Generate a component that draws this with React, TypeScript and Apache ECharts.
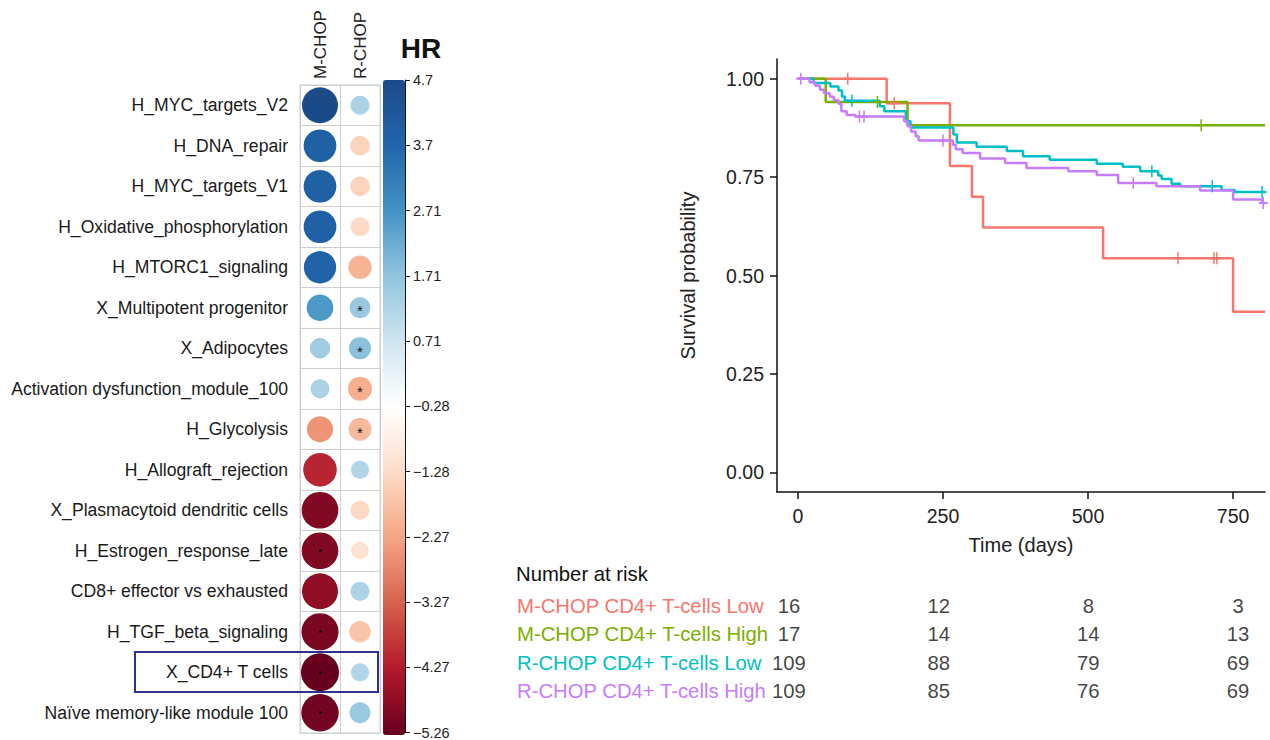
import React, { useEffect, useRef } from "react";
import * as echarts from "echarts";

// ---------- Heatmap (corrplot-style) data ----------
const rowNames = [
  "H_MYC_targets_V2",
  "H_DNA_repair",
  "H_MYC_targets_V1",
  "H_Oxidative_phosphorylation",
  "H_MTORC1_signaling",
  "X_Multipotent progenitor",
  "X_Adipocytes",
  "Activation dysfunction_module_100",
  "H_Glycolysis",
  "H_Allograft_rejection",
  "X_Plasmacytoid dendritic cells",
  "H_Estrogen_response_late",
  "CD8+ effector vs exhausted",
  "H_TGF_beta_signaling",
  "X_CD4+ T cells",
  "Naïve memory-like module 100",
];
const colNames = ["M-CHOP", "R-CHOP"];
const hrM = [4.7, 3.9, 3.9, 3.9, 3.8, 2.6, 1.5, 1.3, -2.5, -4.1, -4.9, -4.9, -4.7, -5.0, -5.26, -5.1];
const hrR = [1.3, -1.4, -1.4, -1.3, -2.0, 1.6, 1.8, -2.1, -1.9, 1.2, -1.3, -1.1, 1.3, -1.7, 1.2, 1.6];
const sigM = [0, 0, 0, 0, 0, 0, 0, 0, 0, 0, 0, 1, 0, 1, 1, 1];
const sigR = [0, 0, 0, 0, 0, 1, 1, 1, 1, 0, 0, 0, 0, 0, 0, 0];
const hrMin = -5.26;
const hrMax = 4.7;
const colorbarTicks = ["−5.26", "−4.27", "−3.27", "−2.27", "−1.28", "−0.28", "0.71", "1.71", "2.71", "3.7", "4.7"];

// ---------- Kaplan-Meier data (day, survival) ----------
const groupNames = [
  "M-CHOP CD4+ T-cells Low",
  "M-CHOP CD4+ T-cells High",
  "R-CHOP CD4+ T-cells Low",
  "R-CHOP CD4+ T-cells High",
];
const groupColors = ["#F8766D", "#7CAE00", "#00BFC4", "#C77CFF"];

const kmMLow = [
  [0, 1], [153, 0.9375], [262, 0.778], [300, 0.7], [319, 0.622], [526, 0.544], [750, 0.408], [805, 0.408],
];
const kmMHigh = [
  [0, 1], [48, 0.941], [189, 0.882], [805, 0.882],
];
const kmRLow = [
  [0, 1], [27, 0.989], [56, 0.98], [70, 0.97], [76, 0.955], [81, 0.944], [141, 0.93], [149, 0.917],
  [186, 0.892], [194, 0.876], [268, 0.858], [274, 0.838], [308, 0.827], [360, 0.816], [388, 0.803],
  [434, 0.794], [515, 0.784], [560, 0.776], [590, 0.765], [621, 0.754], [627, 0.745], [644, 0.733],
  [659, 0.727], [730, 0.717], [753, 0.712], [805, 0.712],
];
const kmRHigh = [
  [0, 1], [20, 0.991], [30, 0.982], [38, 0.972], [45, 0.963], [55, 0.954], [62, 0.945], [70, 0.936],
  [75, 0.917], [84, 0.908], [99, 0.904], [183, 0.892], [189, 0.879], [195, 0.866], [203, 0.854],
  [208, 0.843], [267, 0.832], [272, 0.821], [284, 0.811], [314, 0.797], [357, 0.786], [394, 0.773],
  [466, 0.765], [515, 0.755], [552, 0.735], [618, 0.727], [693, 0.716], [750, 0.693], [800, 0.684],
  [805, 0.684],
];
const censorMLow = [86, 166, 655, 717, 722];
const censorMHigh = [137, 695];
const censorRLow = [93, 610, 714, 800];
const censorRHigh = [5, 106, 114, 250, 578, 802];

const riskTimes = [0, 250, 500, 750];
const riskMLow = [16, 12, 8, 3];
const riskMHigh = [17, 14, 14, 13];
const riskRLow = [109, 88, 79, 69];
const riskRHigh = [109, 85, 76, 69];

const FONT = "Liberation Sans, Arial, Helvetica, sans-serif";

function survAt(curve: number[][], t: number): number {
  let s = curve[0][1];
  for (const p of curve) {
    if (p[0] <= t) s = p[1];
  }
  return s;
}

const plusSymbol =
  "path://M-1,-6 L1,-6 L1,-1 L6,-1 L6,1 L1,1 L1,6 L-1,6 L-1,1 L-6,1 L-6,-1 L-1,-1 Z";

export default function App() {
  const ref = useRef<HTMLDivElement>(null);

  useEffect(() => {
    if (!ref.current) return;
    const chart = echarts.init(ref.current, null, { renderer: "svg" });

    const heatData: any[] = [];
    rowNames.forEach((r, i) => {
      heatData.push({
        value: [0, i, hrM[i]],
        label: { show: !!sigM[i], formatter: "•", fontSize: 10, color: "#000", offset: [0, 0] },
      });
      heatData.push({
        value: [1, i, hrR[i]],
        label: { show: !!sigR[i], formatter: "*", fontSize: 15, color: "#111", offset: [0, 3] },
      });
    });

    const curves = [kmMLow, kmMHigh, kmRLow, kmRHigh];
    const censors = [censorMLow, censorMHigh, censorRLow, censorRHigh];
    const risks = [riskMLow, riskMHigh, riskRLow, riskRHigh];

    const kmSeries: any[] = [];
    curves.forEach((c, k) => {
      kmSeries.push({
        type: "line",
        xAxisIndex: 1,
        yAxisIndex: 1,
        data: c,
        step: "end",
        showSymbol: false,
        symbol: "none",
        lineStyle: { color: groupColors[k], width: 2.5 },
        z: 3 + k,
      });
    });
    censors.forEach((cs, k) => {
      kmSeries.push({
        type: "scatter",
        xAxisIndex: 1,
        yAxisIndex: 1,
        data: cs.map((t) => [t, survAt(curves[k], t)]),
        symbol: plusSymbol,
        symbolSize: [9, 12],
        itemStyle: { color: groupColors[k], opacity: 1 },
        z: 8,
      });
    });

    const riskData: any[] = [];
    risks.forEach((arr, k) => {
      arr.forEach((n, j) => riskData.push([riskTimes[j], groupNames[k], n]));
    });

    const rich: any = {};
    groupColors.forEach((c, k) => {
      rich["g" + k] = { color: c, fontSize: 20.3, fontFamily: FONT };
    });

    const option: any = {
      animation: false,
      backgroundColor: "#ffffff",
      textStyle: { fontFamily: FONT },
      title: [
        {
          text: "Number at risk",
          left: 516,
          top: 564,
          textStyle: { fontSize: 20.3, fontWeight: "normal", color: "#111", fontFamily: FONT },
          padding: 0,
        },
      ],
      grid: [
        { left: 300, top: 85, width: 80, height: 648, show: true, borderColor: "#cfcfcf", borderWidth: 1 },
        { left: 777, top: 59, width: 488, height: 433 },
        { left: 383, top: 80, width: 22, height: 655 },
        { left: 760, top: 592, width: 508, height: 113 },
      ],
      xAxis: [
        {
          gridIndex: 0,
          type: "category",
          data: colNames,
          position: "top",
          axisLine: { show: false },
          axisTick: { show: false },
          axisLabel: { rotate: -90, fontSize: 17, color: "#222", margin: 6, interval: 0 },
          splitLine: { show: true, interval: 0, lineStyle: { color: "#cfcfcf", width: 1 } },
        },
        {
          gridIndex: 1,
          type: "value",
          min: -36,
          max: 805,
          axisLine: { show: true, onZero: false, lineStyle: { color: "#111", width: 1.5 } },
          axisTick: { show: true, customValues: [0, 250, 500, 750], length: 7, lineStyle: { color: "#111", width: 1.5 } },
          axisLabel: { customValues: [0, 250, 500, 750], fontSize: 19.5, color: "#222", margin: 14 },
          splitLine: { show: false },
          name: "Time (days)",
          nameLocation: "middle",
          nameGap: 43,
          nameTextStyle: { fontSize: 20, color: "#222" },
        },
        { gridIndex: 2, type: "category", data: [""], show: false },
        { gridIndex: 3, type: "value", min: -48.4, max: 800, show: false },
      ],
      yAxis: [
        {
          gridIndex: 0,
          type: "category",
          data: rowNames,
          inverse: true,
          axisLine: { show: false },
          axisTick: { show: false },
          axisLabel: { fontSize: 17.6, color: "#1a1a1a", margin: 12, interval: 0 },
          splitLine: { show: true, interval: 0, lineStyle: { color: "#cfcfcf", width: 1 } },
        },
        {
          gridIndex: 1,
          type: "value",
          min: -0.05,
          max: 1.05,
          axisLine: { show: true, onZero: false, lineStyle: { color: "#111", width: 1.5 } },
          axisTick: { show: true, customValues: [0, 0.25, 0.5, 0.75, 1], length: 7, lineStyle: { color: "#111", width: 1.5 } },
          axisLabel: {
            customValues: [0, 0.25, 0.5, 0.75, 1],
            fontSize: 19.5,
            color: "#222",
            margin: 13,
            formatter: (v: number) => v.toFixed(2),
          },
          splitLine: { show: false },
          name: "Survival probability",
          nameLocation: "middle",
          nameGap: 79,
          nameTextStyle: { fontSize: 20, color: "#222" },
        },
        {
          gridIndex: 2,
          type: "category",
          data: colorbarTicks,
          boundaryGap: false,
          position: "right",
          axisLine: { show: true, lineStyle: { color: "#111", width: 1 } },
          axisTick: { show: true, interval: 0, length: 5, lineStyle: { color: "#111" } },
          axisLabel: { interval: 0, fontSize: 14.5, color: "#222", margin: 8 },
          splitLine: { show: false },
        },
        {
          gridIndex: 3,
          type: "category",
          data: groupNames,
          inverse: true,
          axisLine: { show: false },
          axisTick: { show: false },
          axisLabel: {
            align: "left",
            margin: 243,
            interval: 0,
            formatter: (v: string, i: number) => `{g${i}|${v}}`,
            rich,
          },
        },
      ],
      visualMap: [
        {
          type: "continuous",
          seriesIndex: 0,
          dimension: 2,
          min: hrMin,
          max: hrMax,
          calculable: false,
          hoverLink: false,
          orient: "vertical",
          left: 383,
          top: 80,
          itemWidth: 22,
          itemHeight: 655,
          padding: 0,
          showLabel: false,
          text: null,
          inRange: {
            color: [
              "#67001F", "#B2182B", "#D6604D", "#F4A582", "#FDDBC7", "#FFFFFF",
              "#D1E5F0", "#92C5DE", "#4393C3", "#2166AC", "#1B4A88",
            ],
          },
        },
      ],
      graphic: [
        {
          type: "text",
          x: 421,
          y: 48,
          style: {
            text: "HR",
            fontSize: 28,
            fontWeight: "bold",
            fontFamily: FONT,
            fill: "#111",
            textAlign: "center",
            textVerticalAlign: "middle",
          },
        },
        {
          type: "rect",
          shape: { x: 135, y: 652, width: 243, height: 40 },
          style: { fill: "none", stroke: "#2E3192", lineWidth: 2 },
          z: 20,
        },
      ],
      series: [
        {
          type: "scatter",
          xAxisIndex: 0,
          yAxisIndex: 0,
          data: heatData,
          symbolSize: (val: number[]) => 2 * 19 * Math.sqrt(Math.abs(val[2]) / 5.26),
          itemStyle: { opacity: 1 },
          label: { position: "inside" },
          z: 5,
        },
        ...kmSeries,
        {
          type: "scatter",
          xAxisIndex: 3,
          yAxisIndex: 3,
          data: riskData,
          symbolSize: 0,
          label: {
            show: true,
            position: "inside",
            formatter: (p: any) => String(p.value[2]),
            fontSize: 20.3,
            color: "#111",
            fontFamily: FONT,
          },
        },
      ],
    };

    chart.setOption(option);
    return () => chart.dispose();
  }, []);

  return (
    <div
      ref={ref}
      style={{ position: "fixed", left: 0, top: 0, width: 1270, height: 740, background: "#fff" }}
    />
  );
}
